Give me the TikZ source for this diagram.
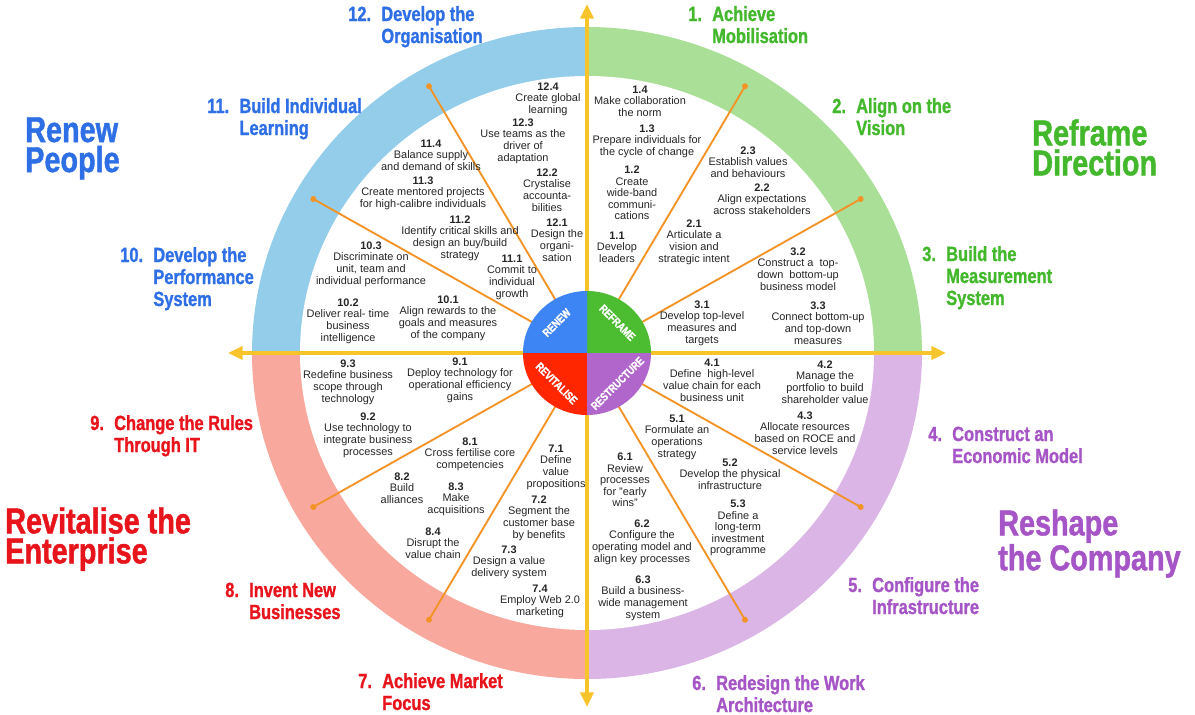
\documentclass[tikz,border=0pt]{standalone}
\usepackage{fontspec}
\setmainfont{Liberation Sans}
\newfontfamily\headfont{Liberation Sans}[FakeStretch=0.8, FakeBold=1.2]
\usepackage{tikz}
\usetikzlibrary{arrows.meta}

\definecolor{ringblue}{HTML}{93CDEA}
\definecolor{ringgreen}{HTML}{AADF98}
\definecolor{ringred}{HTML}{F8A89C}
\definecolor{ringlilac}{HTML}{DAB5E6}
\definecolor{hubblue}{HTML}{3D84F5}
\definecolor{hubgreen}{HTML}{4CBC31}
\definecolor{hubred}{HTML}{FF2600}
\definecolor{hubpurple}{HTML}{B066CB}
\definecolor{labelblue}{HTML}{2F6FE6}
\definecolor{labelgreen}{HTML}{43B82C}
\definecolor{labelred}{HTML}{E8141C}
\definecolor{labelpurple}{HTML}{A655C6}
\definecolor{axisgold}{HTML}{F8C42C}
\definecolor{spokeorange}{HTML}{F39326}

\newcommand{\act}[2]{\textbf{#1}\\#2}
\newcommand{\steptitle}[2]{\begin{tabular}[t]{@{}l@{\hspace{0.5em}}l@{}}#1&#2\end{tabular}}

\begin{document}
\begin{tikzpicture}[
    x=0.75pt, y=0.75pt,
    act/.style={align=center, inner sep=0pt, text=black!85, font=\fontsize{8.2}{8.7}\selectfont},
    hub/.style={text=white, inner sep=0pt, font=\headfont\bfseries\fontsize{8.6}{8.6}\selectfont},
    stepbox/.style={anchor=base west, inner sep=0pt, font=\headfont\bfseries\fontsize{15.4}{16.5}\selectfont},
    theme/.style={anchor=north west, align=left, inner sep=0pt, font=\headfont\bfseries\fontsize{27}{22.5}\selectfont},
    spoke/.style={draw=spokeorange, line width=1.4pt},
    axisline/.style={draw=axisgold, line width=2.4pt, {Triangle[length=11pt,width=10pt]}-{Triangle[length=11pt,width=10pt]}}
]
  \useasboundingbox (0,0) rectangle (1195,-714);
  \coordinate (c) at (587,-353);

  \foreach \col/\s in {ringgreen/0, ringblue/90, ringred/180, ringlilac/270}
    \fill[\col] (c) -- +(\s:335 and 326) arc[start angle=\s, delta angle=90, x radius=335, y radius=326] -- cycle;
  \fill[white] (c) ellipse[x radius=287, y radius=277];

  \foreach \a in {30,60,120,150,210,240,300,330} {
    \path (c) ++(\a:316 and 308) coordinate (d\a);
    \draw[spoke] (c) -- (d\a);
    \fill[spokeorange] (d\a) circle[radius=3];
  }

  \coordinate (north) at (587,-4);
  \coordinate (south) at (587,-707);
  \coordinate (west) at (228,-353);
  \coordinate (east) at (946,-353);
  \draw[axisline] (south) -- (north);
  \draw[axisline] (west) -- (east);

  \foreach \col/\s in {hubgreen/0, hubblue/90, hubred/180, hubpurple/270}
    \fill[\col] (c) -- +(\s:64 and 62) arc[start angle=\s, delta angle=90, x radius=64, y radius=62] -- cycle;

  \node[hub, rotate=45] (renew) at ([shift={(135:43)}]c) {RENEW};
  \node[hub, rotate=-45] (reframe) at ([shift={(45:43)}]c) {REFRAME};
  \node[hub, rotate=-45] (revitalise) at ([shift={(225:43)}]c) {REVITALISE};
  \node[hub, rotate=45] (restructure) at ([shift={(315:43)}]c) {RESTRUCTURE};

  \node[act] (a124) at (548,-99) {\act{12.4}{Create global\\learning}};
  \node[act] (a123) at (523,-141) {\act{12.3}{Use teams as the\\driver of\\adaptation}};
  \node[act] (a114) at (431,-155) {\act{11.4}{Balance supply\\and demand of skills}};
  \node[act] (a122) at (547,-190) {\act{12.2}{Crystalise\\accounta-\\bilities}};
  \node[act] (a113) at (423,-193) {\act{11.3}{Create mentored projects\\for high-calibre individuals}};
  \node[act] (a121) at (557,-240) {\act{12.1}{Design the\\organi-\\sation}};
  \node[act] (a112) at (460,-238) {\act{11.2}{Identify critical skills and\\design an buy/build\\strategy}};
  \node[act] (a111) at (512,-277) {\act{11.1}{Commit to\\individual\\growth}};
  \node[act] (a103) at (371,-264) {\act{10.3}{Discriminate on\\unit, team and\\individual performance}};
  \node[act] (a102) at (348,-321) {\act{10.2}{Deliver real- time\\business\\intelligence}};
  \node[act] (a101) at (448,-318) {\act{10.1}{Align rewards to the\\goals and measures\\of the company}};

  \node[act] (a14) at (640,-101) {\act{1.4}{Make collaboration\\the norm}};
  \node[act] (a13) at (647,-141) {\act{1.3}{Prepare individuals for\\the cycle of change}};
  \node[act] (a12) at (632,-193) {\act{1.2}{Create\\wide-band\\communi-\\cations}};
  \node[act] (a11) at (617,-247) {\act{1.1}{Develop\\leaders}};
  \node[act] (a23) at (748,-162) {\act{2.3}{Establish values\\and behaviours}};
  \node[act] (a22) at (762,-199) {\act{2.2}{Align expectations\\across stakeholders}};
  \node[act] (a21) at (694,-242) {\act{2.1}{Articulate a\\vision and\\strategic intent}};
  \node[act] (a32) at (798,-269) {\act{3.2}{Construct a\ \ top-\\down\ \ bottom-up\\business model}};
  \node[act] (a31) at (702,-323) {\act{3.1}{Develop top-level\\measures and\\targets}};
  \node[act] (a33) at (818,-323) {\act{3.3}{Connect bottom-up\\and top-down\\measures}};

  \node[act] (a93) at (348,-382) {\act{9.3}{Redefine business\\scope through\\technology}};
  \node[act] (a91) at (460,-380) {\act{9.1}{Deploy technology for\\operational efficiency\\gains}};
  \node[act] (a92) at (368,-435) {\act{9.2}{Use technology to\\integrate business\\processes}};
  \node[act] (a81) at (470,-454) {\act{8.1}{Cross fertilise core\\competencies}};
  \node[act] (a71) at (556,-467) {\act{7.1}{Define\\value\\propositions}};
  \node[act] (a82) at (402,-488) {\act{8.2}{Build\\alliances}};
  \node[act] (a83) at (456,-499) {\act{8.3}{Make\\acquisitions}};
  \node[act] (a72) at (539,-518) {\act{7.2}{Segment the\\customer base\\by benefits}};
  \node[act] (a84) at (433,-543) {\act{8.4}{Disrupt the\\value chain}};
  \node[act] (a73) at (509,-562) {\act{7.3}{Design a value\\delivery system}};
  \node[act] (a74) at (540,-601) {\act{7.4}{Employ Web 2.0\\marketing}};

  \node[act] (a41) at (712,-380) {\act{4.1}{Define\ \ high-level\\value chain for each\\business unit}};
  \node[act] (a42) at (825,-382) {\act{4.2}{Manage the\\portfolio to build\\shareholder value}};
  \node[act] (a43) at (805,-433) {\act{4.3}{Allocate resources\\based on ROCE and\\service levels}};
  \node[act] (a51) at (677,-437) {\act{5.1}{Formulate an\\operations\\strategy}};
  \node[act] (a61) at (625,-480) {\act{6.1}{Review\\processes\\for "early\\wins"}};
  \node[act] (a52) at (730,-474) {\act{5.2}{Develop the physical\\infrastructure}};
  \node[act] (a53) at (738,-528) {\act{5.3}{Define a\\long-term\\investment\\programme}};
  \node[act] (a62) at (642,-542) {\act{6.2}{Configure the\\operating model and\\align key processes}};
  \node[act] (a63) at (643,-598) {\act{6.3}{Build a business-\\wide management\\system}};

  \node[stepbox, text=labelgreen] (s1) at (688,-21) {\steptitle{1.}{Achieve\\&Mobilisation}};
  \node[stepbox, text=labelgreen] (s2) at (832,-113) {\steptitle{2.}{Align on the\\&Vision}};
  \node[stepbox, text=labelgreen] (s3) at (922,-261) {\steptitle{3.}{Build the\\&Measurement\\&System}};
  \node[stepbox, text=labelpurple] (s4) at (928,-441) {\steptitle{4.}{Construct an\\&Economic Model}};
  \node[stepbox, text=labelpurple] (s5) at (848,-592) {\steptitle{5.}{Configure the\\&Infrastructure}};
  \node[stepbox, text=labelpurple] (s6) at (692,-690) {\steptitle{6.}{Redesign the Work\\&Architecture}};
  \node[stepbox, text=labelred] (s7) at (358,-688) {\steptitle{7.}{Achieve Market\\&Focus}};
  \node[stepbox, text=labelred] (s8) at (225,-597) {\steptitle{8.}{Invent New\\&Businesses}};
  \node[stepbox, text=labelred] (s9) at (90,-430) {\steptitle{9.}{Change the Rules\\&Through IT}};
  \node[stepbox, text=labelblue] (s10) at (120,-262) {\steptitle{10.}{Develop the\\&Performance\\&System}};
  \node[stepbox, text=labelblue] (s11) at (207,-113) {\steptitle{11.}{Build Individual\\&Learning}};
  \node[stepbox, text=labelblue] (s12) at (348,-21) {\steptitle{12.}{Develop the\\&Organisation}};

  \node[theme, text=labelblue] (people) at (25,-117) {Renew\\People};
  \node[theme, text=labelgreen] (direction) at (1032,-119) {Reframe\\Direction};
  \node[theme, text=labelred] (enterprise) at (5,-507) {Revitalise the\\Enterprise};
  \node[theme, text=labelpurple] (company) at (998,-509) {Reshape\\the Company};
\end{tikzpicture}
\end{document}
